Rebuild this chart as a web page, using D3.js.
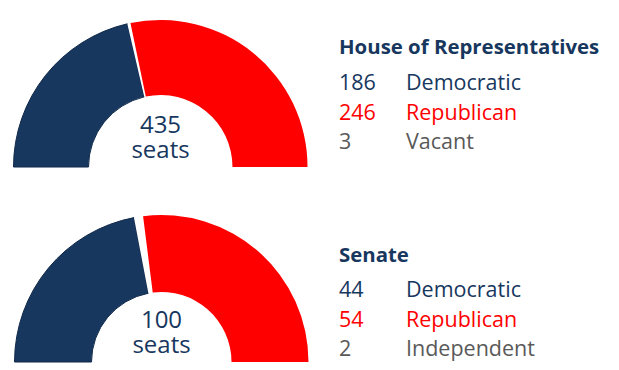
<!DOCTYPE html>
<html>
<head>
<meta charset="utf-8">
<script src="https://cdn.jsdelivr.net/npm/d3@7"></script>
<style>
    html, body { margin: 0; padding: 0; background: #fff; }
    svg { display: block; font-family: "Open Sans", sans-serif; }
</style>
</head>
<body>
<div id="chart"></div>
<script>
// Seat counts per chamber
const chambers = ['House of Representatives', 'Senate'];
const totals = [435, 100];
const partyLabels = [
    ['Democratic', 'Vacant', 'Republican'],
    ['Democratic', 'Independent', 'Republican']
];
const seatValues = [
    [186, 3, 246],
    [44, 2, 54]
];
// legend order differs from the arc order
const legendOrder = [0, 2, 1];

const sliceColors = ['#17375e', '#ffffff', '#ff0000'];
const textColors = ['#17375e', '#595959', '#ff0000'];

const width = 619;
const height = 370;

const svg = d3.select('#chart')
    .append('svg')
    .attr('width', width)
    .attr('height', height);

const pie = d3.pie()
    .sort(null)
    .startAngle(-Math.PI / 2)
    .endAngle(Math.PI / 2)
    .value(d => d);

const layouts = [
    { cx: 160.5, cy: 167, outer: 147, inner: 72, titleY: 54, rowY: 90 },
    { cx: 161.5, cy: 362, outer: 147, inner: 70, titleY: 262, rowY: 297 }
];

chambers.forEach((name, i) => {
    const l = layouts[i];
    const arc = d3.arc().innerRadius(l.inner).outerRadius(l.outer);

    const g = svg.append('g')
        .attr('transform', `translate(${l.cx},${l.cy})`);

    g.selectAll('path')
        .data(pie(seatValues[i]))
        .enter()
        .append('path')
        .attr('d', arc)
        .attr('fill', (d, j) => sliceColors[j])
        .attr('stroke', (d, j) => j === 0 ? '#10294a' : 'none')
        .attr('stroke-width', 1);

    // total in the middle, two lines in one text
    const centre = g.append('text')
        .attr('text-anchor', 'middle')
        .style('font-size', '24px')
        .attr('fill', '#17375e');
    centre.append('tspan')
        .attr('x', 0)
        .attr('y', -34)
        .text(totals[i]);
    centre.append('tspan')
        .attr('x', 0)
        .attr('y', -9)
        .text('seats');

    // legend block
    svg.append('text')
        .attr('x', 339)
        .attr('y', l.titleY)
        .style('font-size', '20.4px')
        .style('font-weight', 'bold')
        .attr('fill', '#17375e')
        .text(name);

    legendOrder.forEach((k, row) => {
        const y = l.rowY + row * 29.5;
        svg.append('text')
            .attr('x', 339)
            .attr('y', y)
            .style('font-size', '21.5px')
            .attr('fill', textColors[k])
            .text(seatValues[i][k]);
        svg.append('text')
            .attr('x', 406)
            .attr('y', y)
            .style('font-size', '21.5px')
            .attr('fill', textColors[k])
            .text(partyLabels[i][k]);
    });
});
</script>
</body>
</html>
